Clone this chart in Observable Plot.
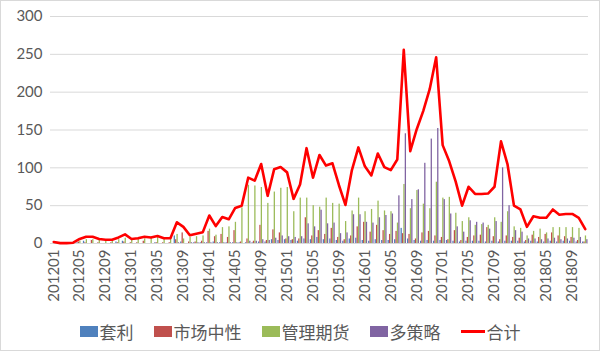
<!DOCTYPE html>
<html>
<head>
<meta charset="utf-8">
<script src="https://cdn.jsdelivr.net/npm/d3@7"></script>
<script src="https://cdn.jsdelivr.net/npm/@observablehq/plot@0.6"></script>
<style>
  html, body { margin: 0; padding: 0; background: #fff; }
  #wrap { width: 598px; height: 349px; border: 1px solid #d9d9d9; position: relative; overflow: hidden;
          font-family: "Lato", "Noto Sans CJK SC", sans-serif; }
  #legend { display: flex; justify-content: center; align-items: center; gap: 20px; margin-top: 13px;
            font-size: 17px; color: #595959; font-family: "Noto Sans CJK SC", sans-serif; }
  .item { display: flex; align-items: center; }
  .sw { width: 18px; height: 11px; margin-right: 2px; }
  .ln { width: 24px; height: 2.5px; background: #ff0000; margin-right: 2px; }
</style>
</head>
<body>
<div id="wrap"><div id="chart"></div><div id="legend"></div></div>
<script>
// Months 201201 .. 201811
const months = [];
for (let y = 2012; y <= 2018; y++) for (let m = 1; m <= 12; m++) {
  if (y === 2018 && m > 11) break;
  months.push(`${y}${String(m).padStart(2, "0")}`);
}
const tickLabels = months.filter((d, i) => i % 4 === 0);

const seriesNames = ["套利", "市场中性", "管理期货", "多策略"];
const totalName = "合计";

const arbitrage = [0,0,0,0,1,3,0,0,0,0,2,3,0,0,0,0,1,0,0,10,2,0,1,1,1,2,1,1,1,1,1,1,2,2,5,4,5,4,3,6,5,8,5,6,4,3,6,7,4,3,5,4,4,5,20,6,4,3,4,3,4,4,3,2,3,3,3,2,3,2,3,3,3,2,3,2,2,3,2,3,3,2,2];
const marketNeutral = [0,0,0,0,2,1,4,1,0,1,1,2,1,1,3,0,1,1,1,5,14,2,2,3,16,9,12,8,17,2,6,3,24,4,18,14,6,5,6,34,10,17,12,20,8,5,10,22,28,15,24,17,12,16,13,12,6,14,16,10,8,5,17,4,8,10,11,21,9,5,10,8,7,4,11,8,12,14,10,9,8,4,2];
const managedFutures = [2,0.5,0.5,1,3,5,5,5,5,4,5,7,5,6,6,8,8,6,6,12,6,8,9,10,19,11,21,22,28,47,77,76,74,53,68,73,74,42,60,60,50,48,60,53,52,29,43,60,42,45,56,43,42,27,78,46,70,52,46,81,60,61,40,29,34,24,25,24,34,28,42,22,20,10,16,19,14,21,21,21,21,20,10];
const multiStrategy = [0,0,0,0,0,0,0,0,0,0,0,0,0,0,0,0,0,0,0,1,0,1,1,1,1,1,1,1,1,0,3,3,5,4,7,10,9,8,9,26,22,44,26,27,13,14,38,38,28,27,34,37,39,63,145,58,71,106,138,152,58,39,22,15,30,28,27,19,29,100,50,17,15,6,6,5,6,7,5,6,7,8,5];
const total = [2,0.5,0.5,1,6,9,9,6,5,5,8,12,6,7,9,8,10,7,7,28,22,11,13,15,37,23,35,32,47,50,87,83,105,63,98,101,94,59,78,126,87,117,103,106,77,51,97,127,102,90,119,101,97,111,256,122,151,175,204,246,130,109,82,50,75,65.5,65.5,66,75,135,105,50,45,22,36,34,34,45,38,39,39,34,19];
const yTicks = [0, 50, 100, 150, 200, 250, 300];

const colors = ["#4f81bd", "#c0504d", "#9bbb59", "#8064a2"];
const lineColor = "#ff0000";
const seriesValues = [arbitrage, marketNeutral, managedFutures, multiStrategy];
const offsets = [-2.1, -0.7, 0.7, 2.1];

const barMarks = seriesValues.map((vals, k) =>
  Plot.barY(months.map((m, i) => ({month: m, v: vals[i]})), {
    x: "month", y: "v", fill: colors[k], insetLeft: 2.6, insetRight: 2.6, dx: offsets[k]
  })
);

const chart = Plot.plot({
  width: 598,
  height: 305,
  marginLeft: 49,
  marginRight: 11,
  marginTop: 15,
  marginBottom: 63,
  style: {fontFamily: "Lato, 'Noto Sans CJK SC', sans-serif", fontSize: "15px", color: "#595959", background: "transparent"},
  x: {type: "band", domain: months, padding: 0, label: null},
  y: {domain: [0, 300], label: null},
  marks: [
    Plot.gridY(yTicks, {stroke: "#d9d9d9", strokeOpacity: 1, strokeWidth: 1}),
    ...barMarks,
    Plot.line(months.map((m, i) => ({month: m, v: total[i]})), {x: "month", y: "v", stroke: lineColor, strokeWidth: 2.6, strokeLinejoin: "round"}),
    Plot.axisY(yTicks, {tickSize: 0, tickPadding: 8, fill: "#595959", fontSize: 15}),
    Plot.axisX(tickLabels, {tickSize: 0, tickPadding: 6, tickRotate: -90, fill: "#595959", fontSize: 15})
  ]
});
document.getElementById("chart").appendChild(chart);

const legend = document.getElementById("legend");
seriesNames.forEach((name, k) => {
  const it = document.createElement("div"); it.className = "item";
  it.innerHTML = `<span class="sw" style="background:${colors[k]}"></span><span>${name}</span>`;
  legend.appendChild(it);
});
const it = document.createElement("div"); it.className = "item";
it.innerHTML = `<span class="ln"></span><span>${totalName}</span>`;
legend.appendChild(it);
</script>
</body>
</html>
